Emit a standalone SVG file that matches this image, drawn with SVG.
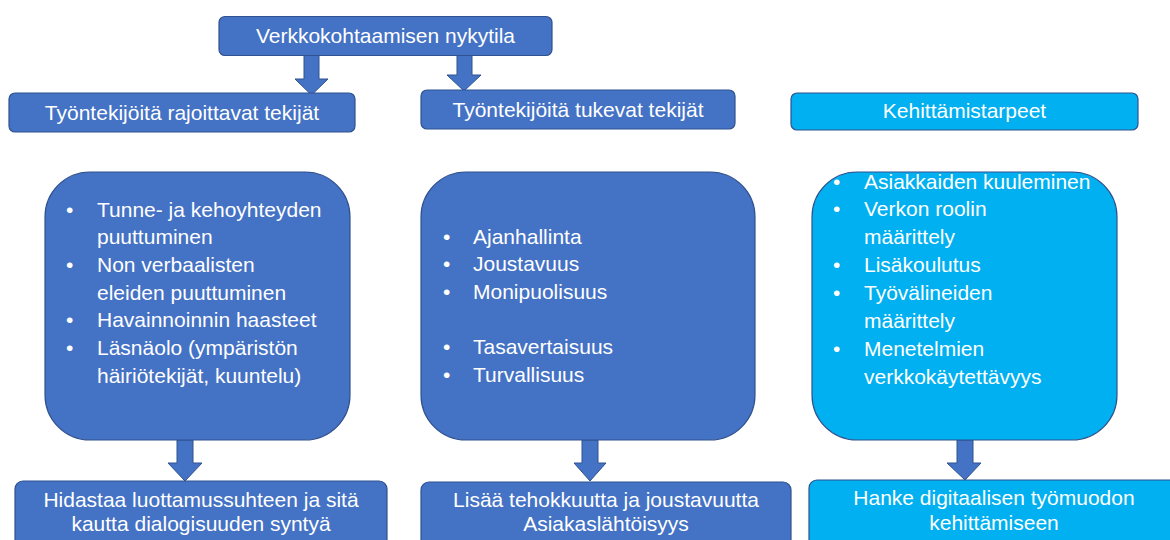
<svg xmlns="http://www.w3.org/2000/svg" width="1170" height="540" viewBox="0 0 1170 540">
<style>
.dark{fill:#4472C4;stroke:#2F528F;stroke-width:1.2}
.light{fill:#00B0F0;stroke:#2F528F;stroke-width:1.2}
.arrow{fill:#4472C4;stroke:#2F528F;stroke-width:1}
text{font-family:"Liberation Sans",Arial,sans-serif;font-size:21px;fill:#FFFFFF}
.c{text-anchor:middle}
</style>
<rect width="1170" height="540" fill="#FFFFFF"/>
<g id="connectors">
<path class="arrow" d="M304,52 H319 V79 H328 L311.5,95 L295,79 H304 Z"/>
<path class="arrow" d="M457,52 H472 V75 H481 L464,91 L447,75 H457 Z"/>
<path class="arrow" d="M177,440 H193 V463 H202 L185,481 L168,463 H177 Z"/>
<path class="arrow" d="M582,440 H598 V463 H606 L590,481 L574,463 H582 Z"/>
<path class="arrow" d="M957,440 H973 V463 H981 L965,480 L947,463 H957 Z"/>
</g>
<g id="n-nykytila">
<rect class="dark" x="219" y="16.5" width="333" height="39" rx="6"/>
<text class="c" x="385.5" y="43">Verkkokohtaamisen nykytila</text>
</g>
<g id="n-rajoittavat">
<rect class="dark" x="9" y="93" width="346" height="39" rx="6"/>
<text class="c" x="182" y="120">Työntekijöitä rajoittavat tekijät</text>
</g>
<g id="n-tukevat">
<rect class="dark" x="421" y="90" width="314" height="39" rx="6"/>
<text class="c" x="578" y="117">Työntekijöitä tukevat tekijät</text>
</g>
<g id="n-kehittamistarpeet">
<rect class="light" x="791" y="93" width="347" height="37" rx="6"/>
<text class="c" x="964.5" y="118">Kehittämistarpeet</text>
</g>
<g id="n-rajoittavat-list">
<rect class="dark" x="45" y="172" width="305" height="268" rx="45"/>
<text x="66" y="216.5">•</text><text x="97" y="216.5">Tunne- ja kehoyhteyden</text>
<text x="97" y="244.2">puuttuminen</text>
<text x="66" y="271.9">•</text><text x="97" y="271.9">Non verbaalisten</text>
<text x="97" y="299.6">eleiden puuttuminen</text>
<text x="66" y="327.3">•</text><text x="97" y="327.3">Havainnoinnin haasteet</text>
<text x="66" y="355">•</text><text x="97" y="355">Läsnäolo (ympäristön</text>
<text x="97" y="382.7">häiriötekijät, kuuntelu)</text>
</g>
<g id="n-tukevat-list">
<rect class="dark" x="421" y="172" width="334" height="268" rx="45"/>
<text x="443" y="243.5">•</text><text x="473" y="243.5">Ajanhallinta</text>
<text x="443" y="271.2">•</text><text x="473" y="271.2">Joustavuus</text>
<text x="443" y="298.9">•</text><text x="473" y="298.9">Monipuolisuus</text>
<text x="443" y="354.3">•</text><text x="473" y="354.3">Tasavertaisuus</text>
<text x="443" y="382">•</text><text x="473" y="382">Turvallisuus</text>
</g>
<g id="n-kehittamis-list">
<rect class="light" x="812" y="172" width="305" height="268" rx="45"/>
<text x="833" y="188.5">•</text><text x="864" y="188.5">Asiakkaiden kuuleminen</text>
<text x="833" y="216.4">•</text><text x="864" y="216.4">Verkon roolin</text>
<text x="864" y="244.3">määrittely</text>
<text x="833" y="272.2">•</text><text x="864" y="272.2">Lisäkoulutus</text>
<text x="833" y="300.1">•</text><text x="864" y="300.1">Työvälineiden</text>
<text x="864" y="328">määrittely</text>
<text x="833" y="355.9">•</text><text x="864" y="355.9">Menetelmien</text>
<text x="864" y="383.8">verkkokäytettävyys</text>
</g>
<g id="n-hidastaa">
<rect class="dark" x="15" y="481" width="372" height="75" rx="8"/>
<text class="c" x="201" y="507">Hidastaa luottamussuhteen ja sitä</text>
<text class="c" x="201" y="531">kautta dialogisuuden syntyä</text>
</g>
<g id="n-lisaa">
<rect class="dark" x="421" y="482" width="370" height="75" rx="8"/>
<text class="c" x="606" y="507">Lisää tehokkuutta ja joustavuutta</text>
<text class="c" x="606" y="531">Asiakaslähtöisyys</text>
</g>
<g id="n-hanke">
<rect class="light" x="809" y="480" width="375" height="76" rx="8"/>
<text class="c" x="994" y="505">Hanke digitaalisen työmuodon</text>
<text class="c" x="994" y="530">kehittämiseen</text>
</g>
</svg>
